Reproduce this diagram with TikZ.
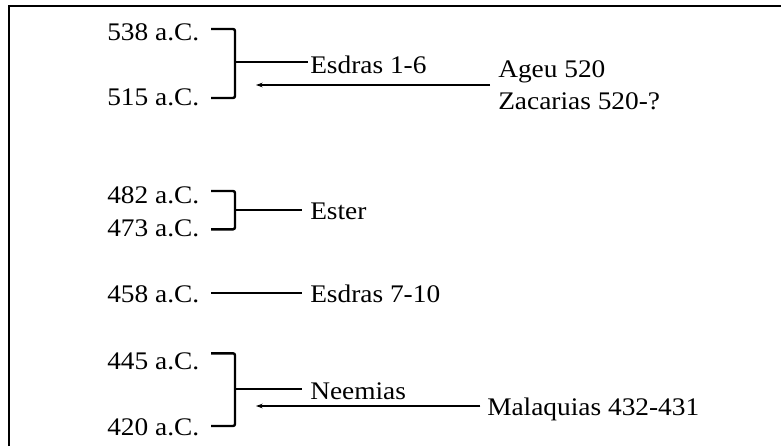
\documentclass[tikz,border=0pt]{standalone}
\usepackage{fontspec}
\setmainfont{Liberation Serif}
\usetikzlibrary{arrows.meta}
% slightly widened text
\newcommand{\wtxt}[1]{\scalebox{1.08}[1]{#1}}
\begin{document}
\begin{tikzpicture}[x=0.75pt,y=-0.75pt,
  lbl/.style={anchor=base west,inner sep=0pt,font=\fontsize{19pt}{23pt}\selectfont},
  brk/.style={line width=1.8pt,rounded corners=1.5pt},
  stub/.style={line width=1.4pt},
  ptr/.style={line width=1.1pt,-{Stealth[length=5pt,width=3.5pt]}},
  frame/.style={line width=1.8pt}]
\useasboundingbox (0,0) rectangle (781,446);

% frame (top and left edges)
\draw[frame] (9,446) -- (9,6) -- (781,6);

% dates
\node[lbl] (d538) at (107,40.7) {\wtxt{538 a.C.}};
\node[lbl] (d515) at (107,105) {\wtxt{515 a.C.}};
\node[lbl] (d482) at (107,203.3) {\wtxt{482 a.C.}};
\node[lbl] (d473) at (107,236) {\wtxt{473 a.C.}};
\node[lbl] (d458) at (107,302.7) {\wtxt{458 a.C.}};
\node[lbl] (d445) at (107,369) {\wtxt{445 a.C.}};
\node[lbl] (d420) at (107,435) {\wtxt{420 a.C.}};

% books
\node[lbl] (esd1) at (310,73) {\wtxt{Esdras 1-6}};
\node[lbl] (ageu) at (498,77.3) {\wtxt{Ageu 520}};
\node[lbl] (zac) at (498,109) {\wtxt{Zacarias 520-?}};
\node[lbl] (ester) at (310,219.3) {\wtxt{Ester}};
\node[lbl] (esd7) at (310,302.7) {\wtxt{Esdras 7-10}};
\node[lbl] (neem) at (310,399) {\wtxt{Neemias}};
\node[lbl] (mal) at (487,415) {\wtxt{Malaquias 432-431}};

% bracket points
\coordinate (a1) at (211,29);   \coordinate (b1) at (211,98);   \coordinate (m1) at (235,62);
\coordinate (a2) at (211,191);  \coordinate (b2) at (211,229.3); \coordinate (m2) at (235,210);
\coordinate (l3) at (211,293.3);
\coordinate (a4) at (211,353.3); \coordinate (b4) at (211,426);  \coordinate (m4) at (235,389.3);
\coordinate (t1) at (256,85);
\coordinate (t4) at (256,406);

% Esdras 1-6
\draw[brk] (a1) -- (a1 -| m1) -- (b1 -| m1) -- (b1);
\draw[stub] (m1) -- ([xshift=-1.5pt]m1 -| esd1.west);
\draw[ptr, shorten <=6pt] (t1 -| ageu.west) -- (t1);

% Ester
\draw[brk] (a2) -- (a2 -| m2) -- (b2 -| m2) -- (b2);
\draw[stub] (m2) -- ([xshift=-6pt]m2 -| ester.west);

% Esdras 7-10
\draw[stub] (l3) -- ([xshift=-6pt]l3 -| esd7.west);

% Neemias
\draw[brk] (a4) -- (a4 -| m4) -- (b4 -| m4) -- (b4);
\draw[stub] (m4) -- ([xshift=-6pt]m4 -| neem.west);
\draw[ptr, shorten <=5pt] (t4 -| mal.west) -- (t4);
\end{tikzpicture}
\end{document}
